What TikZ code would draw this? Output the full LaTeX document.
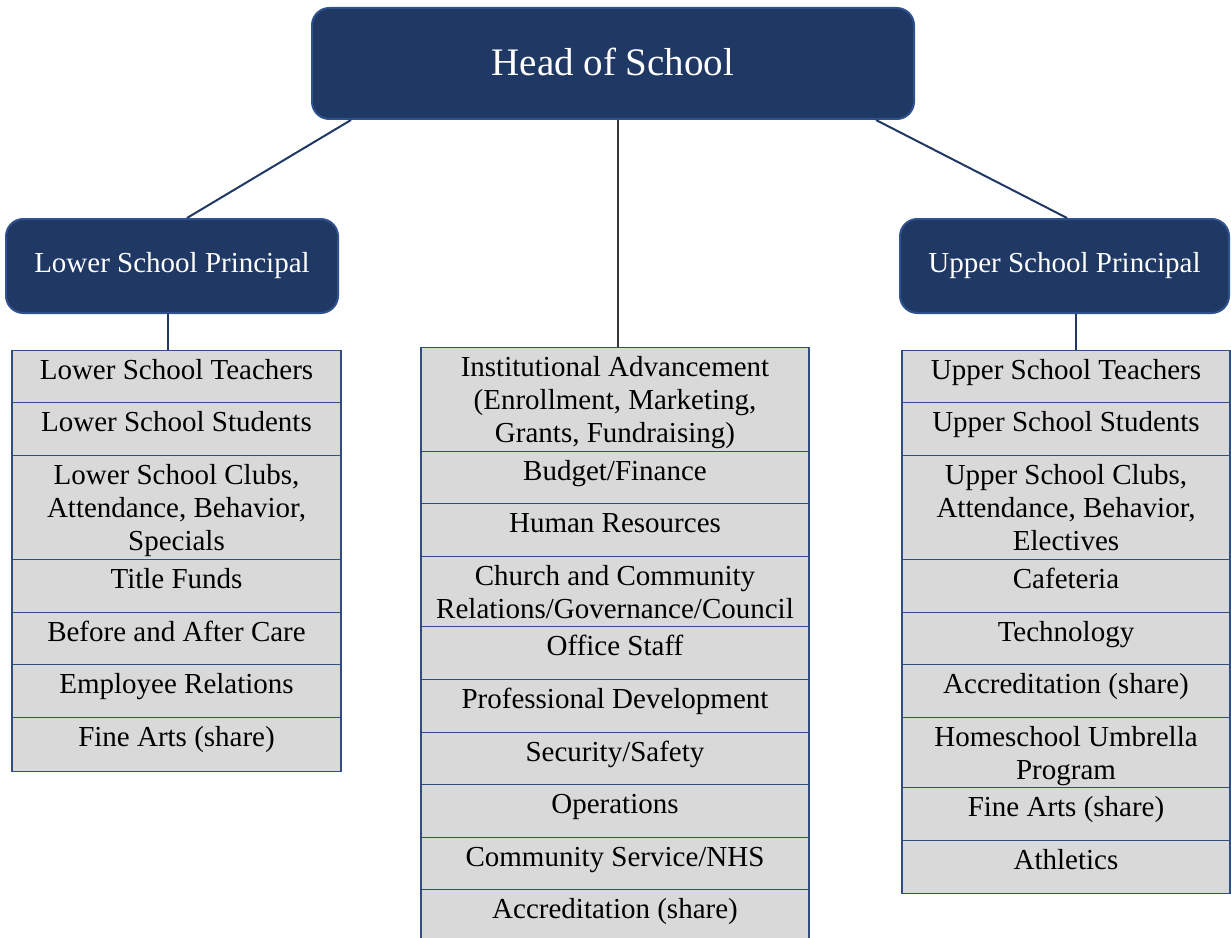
\documentclass[tikz,border=0pt]{standalone}
\usepackage{fontspec}
\setmainfont{Liberation Serif}
\usetikzlibrary{calc}
\definecolor{navyfill}{RGB}{32,56,100}
\definecolor{navyedge}{RGB}{47,82,143}
\definecolor{gridline}{RGB}{50,78,128}
\definecolor{cellgray}{RGB}{217,217,217}
\definecolor{linknavy}{RGB}{32,56,100}
\definecolor{linkgray}{RGB}{55,55,55}
\newcommand{\bodyfont}{\fontsize{21.75pt}{24.75pt}\selectfont}
\newcommand{\headfont}{\fontsize{29.25pt}{33pt}\selectfont}

\begin{document}
\begin{tikzpicture}[x=0.75pt,y=-0.75pt,
  leader/.style={draw=navyedge, fill=navyfill, line width=1.5pt,
    rounded corners=13pt, text=white, inner sep=0pt},
  cell/.style={draw=gridline, fill=cellgray, line width=1.1pt,
    minimum width=#1, inner xsep=0pt, inner ysep=0pt, text height=21.75pt,
    anchor=north, align=center, font=\bodyfont, text=black},
  % multi-line cells: the node baseline sits on the last line
  twolines/.style={text height=46.5pt, text depth=6pt},
  threelines/.style={text height=71.25pt, text depth=6.75pt},
  link/.style={draw=linknavy, line width=1.5pt},
]
\useasboundingbox (0,0) rectangle (1231,938);
\clip (0,0) rectangle (1231,938);

% ---- leadership boxes
\node[leader, minimum width=451.5pt, minimum height=83.25pt, font=\headfont,
  text height=20pt, text depth=2pt]
  (head) at (613,63.5) {Head of School};
\node[leader, minimum width=249pt, minimum height=70.5pt, font=\bodyfont]
  (lsp) at (172,266) {Lower School Principal};
\node[leader, minimum width=246.75pt, minimum height=70.5pt, font=\bodyfont]
  (usp) at (1064.5,266) {Upper School Principal};

% ---- lower school column
\node[cell=246.75pt, text depth=17.25pt] (L1) at (176.5,350) {Lower School Teachers};
\node[cell=246.75pt, text depth=18pt]    (L2) at (176.5,402) {Lower School Students};
\node[cell=246.75pt, threelines]         (L3) at (176.5,455) {Lower School Clubs,\\Attendance, Behavior,\\Specials};
\node[cell=246.75pt, text depth=18pt]    (L4) at (176.5,559) {Title Funds};
\node[cell=246.75pt, text depth=17.25pt] (L5) at (176.5,612) {Before and After Care};
\node[cell=246.75pt, text depth=18pt]    (L6) at (176.5,664) {Employee Relations};
\node[cell=246.75pt, text depth=18.75pt] (L7) at (176.5,717) {Fine Arts (share)};

% ---- central office column
\node[cell=291pt, threelines]         (M1)  at (615,347) {Institutional Advancement\\(Enrollment, Marketing,\\Grants, Fundraising)};
\node[cell=291pt, text depth=17.25pt] (M2)  at (615,451) {Budget/Finance};
\node[cell=291pt, text depth=18pt]    (M3)  at (615,503) {Human Resources};
\node[cell=291pt, twolines]           (M4)  at (615,556) {Church and Community\\Relations/Governance/Council};
\node[cell=291pt, text depth=18pt]    (M5)  at (615,626) {Office Staff};
\node[cell=291pt, text depth=18pt]    (M6)  at (615,679) {Professional Development};
\node[cell=291pt, text depth=17.25pt] (M7)  at (615,732) {Security/Safety};
\node[cell=291pt, text depth=18pt]    (M8)  at (615,784) {Operations};
\node[cell=291pt, text depth=17.25pt] (M9)  at (615,837) {Community Service/NHS};
\node[cell=291pt, text depth=18pt]    (M10) at (615,889) {Accreditation (share)};

% ---- upper school column
\node[cell=246pt, text depth=17.25pt] (R1) at (1066,350) {Upper School Teachers};
\node[cell=246pt, text depth=18pt]    (R2) at (1066,402) {Upper School Students};
\node[cell=246pt, threelines]         (R3) at (1066,455) {Upper School Clubs,\\Attendance, Behavior,\\Electives};
\node[cell=246pt, text depth=18pt]    (R4) at (1066,559) {Cafeteria};
\node[cell=246pt, text depth=17.25pt] (R5) at (1066,612) {Technology};
\node[cell=246pt, text depth=18pt]    (R6) at (1066,664) {Accreditation (share)};
\node[cell=246pt, twolines]           (R7) at (1066,717) {Homeschool Umbrella\\Program};
\node[cell=246pt, text depth=18pt]    (R8) at (1066,787) {Fine Arts (share)};
\node[cell=246pt, text depth=18pt]    (R9) at (1066,840) {Athletics};

% ---- reporting lines
\draw[link] ($(head.south west)+(40,0)$) -- ($(lsp.north)+(15,0)$);
\draw[link] ($(head.south east)+(-39,0)$) -- ($(usp.north)+(2.5,0)$);
\draw[link, draw=linkgray] ($(head.south)+(5,0)$) -- ($(M1.north)+(3,0)$);
\draw[link] ($(lsp.south)+(-4,0)$) -- ($(L1.north)+(-8.5,0)$);
\draw[link] ($(usp.south)+(11.5,0)$) -- ($(R1.north)+(10,0)$);
\end{tikzpicture}
\end{document}
